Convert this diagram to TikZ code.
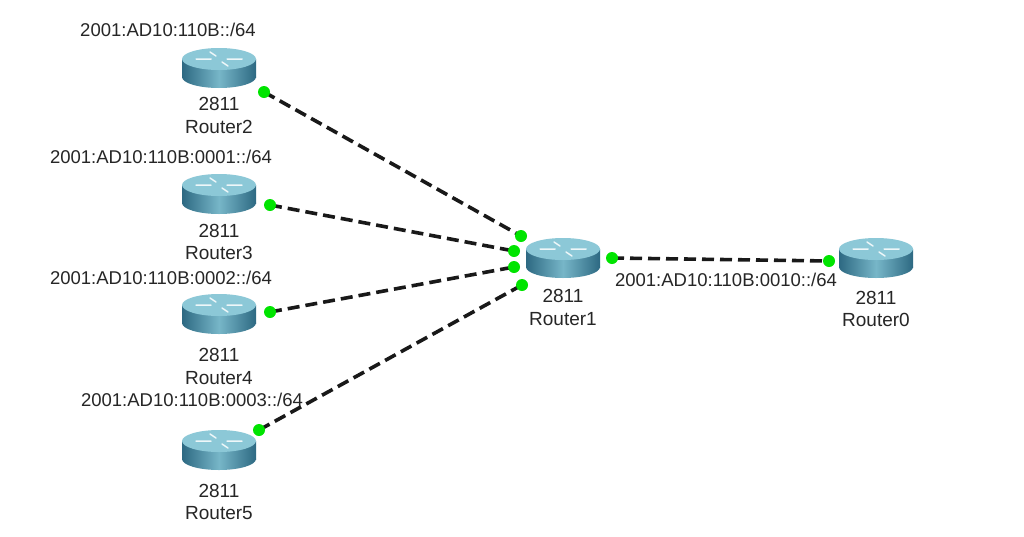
\documentclass[tikz,border=0pt]{standalone}
\usepackage{fontspec}
\setmainfont{Liberation Sans}
\begin{document}
\begin{tikzpicture}[x=1pt,y=-1pt,
  lbl/.style={font=\fontsize{19}{20}\selectfont, text=black!85, inner sep=0pt},
  lbls/.style={font=\fontsize{18.5}{19}\selectfont, text=black!85, inner sep=0pt},
  link/.style={line width=3.6pt, dash pattern=on 12pt off 6pt, black!90},
  dot/.style={circle, fill=green!85!black!70!green, inner sep=0pt, minimum size=12pt},
  rbox/.style={minimum width=72pt, minimum height=42pt, inner sep=0pt},
  rshade/.style={left color=rdark, right color=rdark, middle color=rtop!70!rbody}]
\definecolor{rtop}{RGB}{140,200,215}
\definecolor{rbody}{RGB}{70,140,165}
\definecolor{rdark}{RGB}{45,105,130}
\fill[white] (0,0) rectangle (1024,536);
\newcommand\rtr[3]{%
  \begin{scope}[shift={(#1,#2)}]
    \shade[rshade] (0,9) ellipse[x radius=37,y radius=11];
    \shade[rshade] (-37,-9) rectangle (37,9);
    \fill[rtop] (0,-9) ellipse[x radius=37,y radius=11];
    \draw[white!85!rtop, line width=1.5pt, line cap=round]
      (-23,-9) -- (-8,-9) (8,-9) -- (23,-9) (-9,-16) -- (-3,-12) (9,-2) -- (3,-6);
    \node[rbox] (#3) at (0,0) {};
  \end{scope}}
\rtr{219}{68}{r2}
\rtr{219}{194}{r3}
\rtr{219}{314}{r4}
\rtr{219}{450}{r5}
\rtr{563}{258}{r1}
\rtr{876}{258}{r0}
% labels
\node[lbl] (t2a) at (219,104) {2811};
\node[lbl] (t2b) at (219,127) {Router2};
\node[lbl] (t3a) at (219,231) {2811};
\node[lbl] (t3b) at (219,253) {Router3};
\node[lbl] (t4a) at (219,355) {2811};
\node[lbl] (t4b) at (219,378) {Router4};
\node[lbl] (t5a) at (219,491) {2811};
\node[lbl] (t5b) at (219,513) {Router5};
\node[lbl] (t1a) at (563,296) {2811};
\node[lbl] (t1b) at (563,319) {Router1};
\node[lbl] (t0a) at (876,298) {2811};
\node[lbl] (t0b) at (876,320) {Router0};
\node[lbls] (n2) at (168,30) {2001:AD10:110B::/64};
\node[lbls] (n3) at (161,157) {2001:AD10:110B:0001::/64};
\node[lbls] (n4) at (161,278) {2001:AD10:110B:0002::/64};
\node[lbls] (n5) at (192,400) {2001:AD10:110B:0003::/64};
% ports
\coordinate (p2) at (264,92);  \coordinate (q2) at (521,236);
\coordinate (p3) at (270,205); \coordinate (q3) at (514,251);
\coordinate (p4) at (270,312); \coordinate (q4) at (514,267);
\coordinate (p5) at (259,430); \coordinate (q5) at (522,285);
\coordinate (p1) at (612,258); \coordinate (q0) at (829,261);
\draw[link] (p2) -- (q2);
\draw[link] (p3) -- (q3);
\draw[link] (p4) -- (q4);
\draw[link] (p5) -- (q5);
\draw[link] (p1) -- (q0);
\node[lbls, fill=white, inner sep=1pt] (n1) at (726,280) {2001:AD10:110B:0010::/64};
\foreach \c in {p2,q2,p3,q3,p4,q4,p5,q5,p1,q0} \node[dot] at (\c) {};
\end{tikzpicture}
\end{document}
